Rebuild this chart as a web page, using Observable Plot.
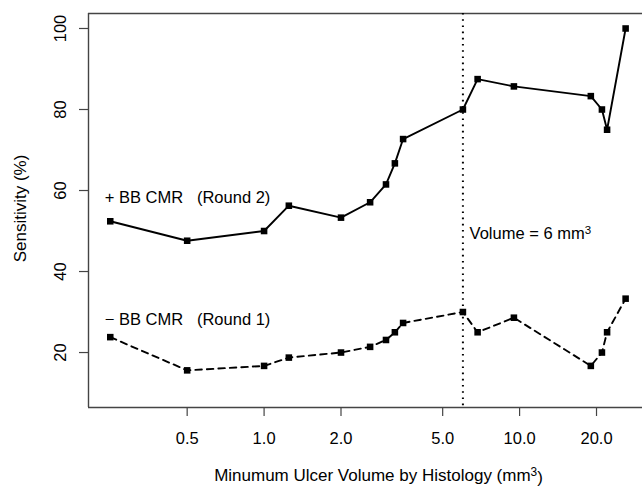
<!DOCTYPE html>
<html>
<head>
<meta charset="utf-8">
<script src="https://cdn.jsdelivr.net/npm/d3@7"></script>
<script src="https://cdn.jsdelivr.net/npm/@observablehq/plot@0.6"></script>
<style>
  html, body { margin: 0; padding: 0; background: #fff; }
  #chart svg { display: block; font-family: "Liberation Sans", Arial, sans-serif; }
</style>
</head>
<body>
<div id="chart"></div>
<script>
// Minimum ulcer volume by histology (mm^3)
const volume = [0.25, 0.5, 1, 1.25, 2, 2.6, 3, 3.25, 3.5, 6, 6.85, 9.5, 19, 21, 22, 26];
// Sensitivity (%) with BB CMR (Round 2)
const round2 = [52.4, 47.6, 50, 56.25, 53.3, 57.1, 61.5, 66.7, 72.7, 80, 87.5, 85.7, 83.3, 80, 75, 100];
// Sensitivity (%) without BB CMR (Round 1)
const round1 = [23.8, 15.6, 16.7, 18.75, 20, 21.4, 23.1, 25, 27.3, 30, 25, 28.6, 16.7, 20, 25, 33.3];

const xTicks = [0.5, 1, 2, 5, 10, 20];
const xTickLabels = ["0.5", "1.0", "2.0", "5.0", "10.0", "20.0"];
const yTicks = [20, 40, 60, 80, 100];
const yTickLabels = ["20", "40", "60", "80", "100"];

const cutoff = [6];
const labels = ["+ BB CMR   (Round 2)", "\u2212 BB CMR   (Round 1)", "Volume = 6 mm\u00b3"];
const labelX = [0.238, 0.238, 6.37];
const labelY = [58.1, 28.1, 49.4];

const xTitle = "Minumum Ulcer Volume by Histology (mm\u00b3)";
const yTitle = "Sensitivity (%)";

const xDomain = [0.2055, 30.27];
const yDomain = [6.43, 103.7];

const rows2 = volume.map((v, i) => ({v, s: round2[i]}));
const rows1 = volume.map((v, i) => ({v, s: round1[i]}));
const labelRows = labels.map((t, i) => ({t: t.replace(/ /g, "\u00a0"), x: labelX[i], y: labelY[i]}));
const FS = 16.5;
const TFS = 17;

const chart = Plot.plot({
  width: 642,
  height: 487,
  marginLeft: 88,
  marginRight: 0,
  marginTop: 13,
  marginBottom: 80,
  style: {fontFamily: "'Liberation Sans', Arial, sans-serif", fontSize: FS + "px", color: "#000", background: "#fff"},
  x: {type: "log", domain: xDomain, axis: null},
  y: {domain: yDomain, axis: null},
  marks: [
    // box
    Plot.ruleX([xDomain[0]], {stroke: "#444", strokeWidth: 1.4}),
    Plot.ruleY(yDomain, {stroke: "#444", strokeWidth: 1.4}),
    // x axis
    Plot.axisX({ticks: xTicks, tickSize: 9, tickFormat: () => "", stroke: "#444", strokeWidth: 1.2}),
    Plot.text(xTicks, {x: d => d, text: (d, i) => xTickLabels[i], frameAnchor: "bottom", dy: 31, lineAnchor: "middle", fontSize: FS, fill: "#000"}),
    // y axis
    Plot.axisY({ticks: yTicks, tickSize: 9, tickFormat: () => "", stroke: "#444", strokeWidth: 1.2}),
    Plot.text(yTicks, {y: d => d, text: (d, i) => yTickLabels[i], frameAnchor: "left", dx: -28, rotate: -90, textAnchor: "middle", lineAnchor: "middle", fontSize: FS, fill: "#000"}),
    // titles
    Plot.text([xTitle], {text: d => d, frameAnchor: "bottom", dx: 13, dy: 68, lineAnchor: "middle", fontSize: TFS, fill: "#000"}),
    Plot.text([yTitle], {text: d => d, frameAnchor: "left", dx: -68, dy: -2, rotate: -90, textAnchor: "middle", lineAnchor: "middle", fontSize: TFS, fill: "#000"}),
    // cutoff
    Plot.ruleX(cutoff, {stroke: "#000", strokeWidth: 2, strokeDasharray: "1.6,4.6"}),
    // series
    Plot.line(rows2, {x: "v", y: "s", stroke: "#000", strokeWidth: 1.9}),
    Plot.dot(rows2, {x: "v", y: "s", symbol: "square", r: 3.7, fill: "#000", stroke: "none"}),
    Plot.line(rows1, {x: "v", y: "s", stroke: "#000", strokeWidth: 1.9, strokeDasharray: "6.5,5"}),
    Plot.dot(rows1, {x: "v", y: "s", symbol: "square", r: 3.7, fill: "#000", stroke: "none"}),
    // annotations
    Plot.text(labelRows, {x: "x", y: "y", text: "t", textAnchor: "start", lineAnchor: "middle", fontSize: FS, fill: "#000"})
  ]
});
document.getElementById("chart").appendChild(chart);

// render the "³" as a raised, smaller "3" (superscript), keeping it as real text
d3.select(chart).selectAll("text").each(function () {
  const el = this;
  if (el.children.length) return;
  const s = el.textContent;
  const k = s.indexOf("\u00b3");
  if (k < 0) return;
  const before = s.slice(0, k), after = s.slice(k + 1);
  const sel = d3.select(el);
  sel.text(null);
  sel.append("tspan").text(before);
  sel.append("tspan").attr("dy", "-0.45em").attr("font-size", "0.7em").text("3");
  if (after) sel.append("tspan").attr("dy", "0.45em").text(after);
});
</script>
</body>
</html>
